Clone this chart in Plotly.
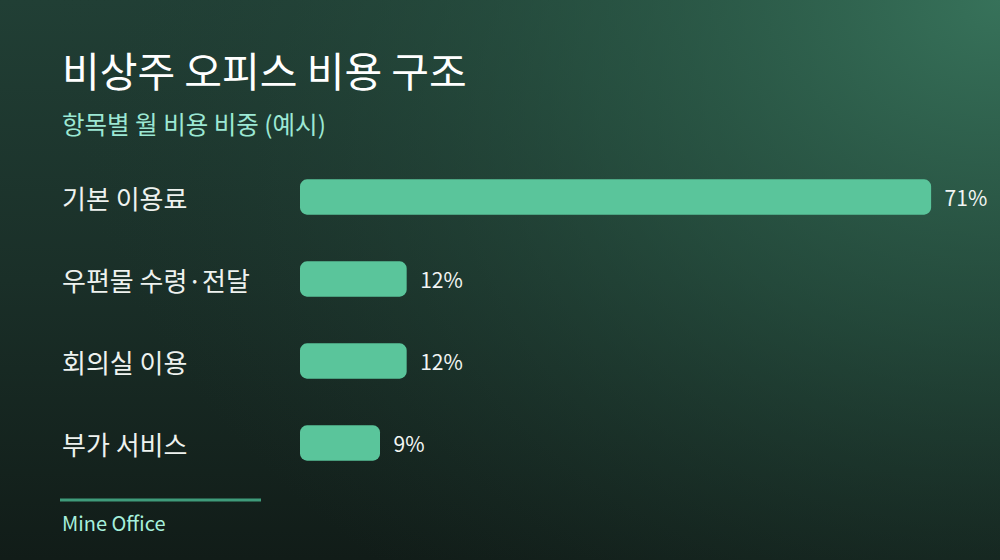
import base64
import plotly.graph_objects as go

# data
categories = ["기본 이용료", "우편물 수령·전달", "회의실 이용", "부가 서비스"]
shares = [71, 12, 12, 9]
share_labels = ["71%", "12%", "12%", "9%"]

title = "비상주 오피스 비용 구조"
subtitle = "항목별 월 비용 비중 (예시)"
footer = "Mine Office"

W, H = 1000, 560
ML, MR, MT, MB = 300, 60, 156, 76
PW, PH = W - ML - MR, H - MT - MB

FONT = "Noto Sans CJK KR"
BAR = "#5ac59b"

# background gradient as an svg image
bg_svg = f"""<svg xmlns='http://www.w3.org/2000/svg' width='{W}' height='{H}'>
<defs>
<linearGradient id='g' x1='0' y1='0' x2='0' y2='1'>
<stop offset='0' stop-color='#213f35'/>
<stop offset='0.5' stop-color='#1a2f28'/>
<stop offset='1' stop-color='#111c18'/>
</linearGradient>
<radialGradient id='r' cx='1' cy='0' r='0.95' gradientTransform='translate(1,0) scale(1,1.4) translate(-1,0)'>
<stop offset='0' stop-color='#37725a' stop-opacity='1'/>
<stop offset='0.45' stop-color='#2c5e4a' stop-opacity='0.55'/>
<stop offset='1' stop-color='#1f3a31' stop-opacity='0'/>
</radialGradient>
</defs>
<rect width='{W}' height='{H}' fill='url(#g)'/>
<rect width='{W}' height='{H}' fill='url(#r)'/>
</svg>"""
bg_uri = "data:image/svg+xml;base64," + base64.b64encode(bg_svg.encode()).decode()

fig = go.Figure()
fig.add_trace(go.Bar(
    x=shares, base=[0] * len(shares), y=categories, orientation="h",
    marker=dict(color=BAR, cornerradius=7, line=dict(width=0)),
    text=share_labels, texttemplate="\u2002%{text}", textposition="outside",
    textfont=dict(family=FONT, size=21, color="#f2f5f3"),
    cliponaxis=False, hoverinfo="skip",
))

annotations = []
for c in categories:
    annotations.append(dict(
        x=(60 - ML) / PW, xref="paper", y=c, yref="y",
        text=c, showarrow=False, xanchor="left", yanchor="middle",
        font=dict(family=FONT, size=26, color="#eef2ef"),
    ))
annotations += [
    dict(x=(60 - ML) / PW, xref="paper", y=1 + (MT - 69) / PH, yref="paper",
         text=title, showarrow=False, xanchor="left", yanchor="middle",
         font=dict(family=FONT, size=41, color="#ffffff")),
    dict(x=(60 - ML) / PW, xref="paper", y=1 + (MT - 123) / PH, yref="paper",
         text=subtitle, showarrow=False, xanchor="left", yanchor="middle",
         font=dict(family=FONT, size=24.5, color="#9ce8d4")),
    dict(x=(60 - ML) / PW, xref="paper", y=-(522 - (H - MB)) / PH, yref="paper",
         text=footer, showarrow=False, xanchor="left", yanchor="middle",
         font=dict(family=FONT, size=20, color="#a6f0dc")),
]

fig.update_layout(
    width=W, height=H,
    margin=dict(l=ML, r=MR, t=MT, b=MB, pad=0),
    paper_bgcolor="#15231f", plot_bgcolor="rgba(0,0,0,0)",
    showlegend=False, bargap=0.57,
    xaxis=dict(range=[0, 72], visible=False, fixedrange=True),
    yaxis=dict(autorange="reversed", visible=False, fixedrange=True),
    annotations=annotations,
    images=[dict(source=bg_uri, xref="paper", yref="paper",
                 x=-ML / PW, y=1 + MT / PH, sizex=W / PW, sizey=H / PH,
                 xanchor="left", yanchor="top", sizing="stretch", layer="below")],
    shapes=[dict(type="line", xref="paper", yref="paper",
                 x0=(60 - ML) / PW, x1=(261 - ML) / PW,
                 y0=-(500 - (H - MB)) / PH, y1=-(500 - (H - MB)) / PH,
                 line=dict(color="#3f9b7b", width=3))],
)

fig.write_html("out.html", config={"displayModeBar": False},
               post_script="document.body.style.margin='0';")
